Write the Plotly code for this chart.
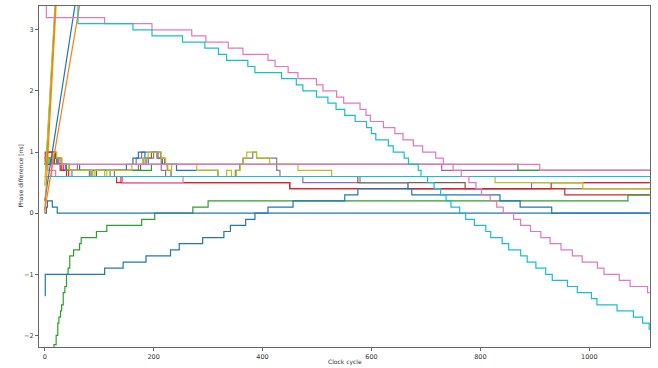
import plotly.graph_objects as go

END = 1111  # last simulated clock cycle

# ---- step series: x = clock cycle where the value changes, y = new value [ns]
blue_zero_x = [0, 3, 5, 14, 23, END]
blue_zero_y = [0.0, 0.1, 0.2, 0.1, 0.0, 0.0]

blue_rise_x = [0, 1, 110, 144, 186, 231, 247, 290, 329, 341, 369, 386, 410, 456, 551, 575, 674, 836, 873, 931, END]
blue_rise_y = [-1.35, -1.0, -0.9, -0.8, -0.7, -0.6, -0.5, -0.4, -0.3, -0.2, -0.1, 0.0, 0.1, 0.2, 0.3, 0.4, 0.3, 0.2, 0.1, 0.0, 0.0]

blue_c_x = [0, 10, 22, 64, 150, 162, 172, 184, 190, 242, 318, END]
blue_c_y = [0.8, 0.9, 0.8, 0.7, 0.8, 0.9, 1.0, 0.9, 0.8, 0.7, 0.6, 0.6]

green_rise_x = [0, 17, 21, 24, 26, 29, 31, 34, 37, 40, 43, 46, 53, 64, 67, 95, 114, 178, 202, 272, 300, 1071, END]
green_rise_y = [-3.0, -2.15, -2.0, -1.8, -1.7, -1.6, -1.5, -1.3, -1.2, -1.0, -0.9, -0.7, -0.6, -0.5, -0.4, -0.3, -0.2, -0.1, 0.0, 0.1, 0.2, 0.3, 0.3]

green_b_x = [0, 6, 15, 40, 156, 196, 869, END]
green_b_y = [0.8, 0.9, 0.8, 0.7, 0.7, 0.8, 0.7, 0.7]

red_a_x = [0, 1, 18, 26, 34, 44, 132, 450, 955, END]
red_a_y = [0.8, 1.0, 0.9, 0.8, 0.7, 0.6, 0.5, 0.4, 0.3, 0.3]

red_b_x = [0, 5, 18, 24, 30, 40, 140, 450, 930, END]
red_b_y = [0.9, 1.0, 0.8, 0.8, 0.7, 0.6, 0.5, 0.4, 0.5, 0.5]

purple_a_x = [0, 12, 24, 38, 60, 168, 178, 213, 220, 729, END]
purple_a_y = [0.8, 0.9, 0.8, 0.7, 0.8, 0.9, 1.0, 0.9, 0.8, 0.7, 0.7]

purple_b_x = [0, 10, 30, 50, 474, 667, 894, END]
purple_b_y = [0.9, 0.8, 0.7, 0.6, 0.5, 0.4, 0.5, 0.5]

brown_x = [0, 14, 20, 30, 45, 85, 95, 176, 186, 196, 208, 216, 225, 232, 575, 772, END]
brown_y = [0.9, 1.0, 0.9, 0.8, 0.7, 0.6, 0.7, 0.8, 0.9, 1.0, 0.9, 0.8, 0.7, 0.6, 0.5, 0.4, 0.4]

gray_x = [0, 16, 28, 82, 88, 120, 128, 172, 182, 200, 206, 214, 222, 350, 358, 364, 382, 389, 426, 432, 579, 667, END]
gray_y = [0.9, 0.8, 0.7, 0.6, 0.7, 0.6, 0.7, 0.8, 0.9, 1.0, 0.9, 0.7, 0.6, 0.7, 0.8, 0.9, 1.0, 0.9, 0.7, 0.6, 0.5, 0.4, 0.4]

olive_x = [0, 15, 22, 32, 45, 88, 92, 110, 114, 160, 180, 190, 214, 222, 226, 233, 279, 318, 334, 343, 352, 359, 365, 371, 389, 413, 465, 527, 827, 988, END]
olive_y = [0.9, 1.0, 0.9, 0.8, 0.7, 0.6, 0.7, 0.6, 0.7, 0.8, 0.9, 1.0, 0.9, 0.8, 0.7, 0.8, 0.7, 0.6, 0.7, 0.6, 0.7, 0.8, 0.9, 1.0, 0.9, 0.8, 0.7, 0.6, 0.5, 0.4, 0.4]

pink_b_x = [0, 6, 20, 143, 254, END]
pink_b_y = [0.8, 0.7, 0.6, 0.5, 0.6, 0.6]

pink_flat_x = [0, 13, 909, END]
pink_flat_y = [0.6, 0.8, 0.7, 0.7]

cyan_flat_x = [0, END]
cyan_flat_y = [0.6, 0.6]

pink_desc_x = [0, 3, 110, 197, 270, 296, 337, 364, 410, 423, 447, 465, 499, 511, 536, 549, 579, 590, 598, 622,
               643, 658, 677, 694, 718, 732, 750, 765, 779, 792, 802, 818, 830, 842, 861, 874, 892, 911, 928, 948,
               969, 987, 1015, 1027, 1055, 1075, 1107, END]
pink_desc_y = [3.6, 3.2, 3.1, 3.0, 2.9, 2.8, 2.7, 2.6, 2.5, 2.4, 2.3, 2.2, 2.1, 2.0, 1.9, 1.8, 1.7, 1.6, 1.5, 1.4,
               1.3, 1.2, 1.1, 1.0, 0.9, 0.8, 0.7, 0.6, 0.5, 0.4, 0.3, 0.2, 0.1, 0.0, -0.1, -0.2, -0.3, -0.4, -0.5, -0.6,
               -0.7, -0.8, -0.9, -1.0, -1.1, -1.2, -1.3, -1.3]

cyan_desc_x = [0, 61, 162, 197, 253, 294, 319, 334, 373, 386, 435, 462, 474, 499, 520, 535, 551, 570, 591, 600,
               608, 631, 640, 660, 668, 686, 691, 703, 715, 727, 737, 746, 762, 773, 789, 810, 819, 840, 852, 874,
               886, 902, 920, 932, 960, 978, 1004, 1014, 1051, 1081, 1098, 1110, END]
cyan_desc_y = [3.6, 3.1, 3.0, 2.9, 2.8, 2.7, 2.6, 2.5, 2.4, 2.3, 2.2, 2.1, 2.0, 1.9, 1.8, 1.7, 1.6, 1.5, 1.4, 1.3,
               1.2, 1.1, 1.0, 0.9, 0.8, 0.7, 0.6, 0.5, 0.4, 0.3, 0.2, 0.1, 0.0, -0.1, -0.2, -0.3, -0.4, -0.5, -0.6, -0.7,
               -0.8, -0.9, -1.0, -1.1, -1.2, -1.3, -1.4, -1.5, -1.6, -1.7, -1.8, -1.9, -1.9]

# ---- runaway series (phase keeps growing), drawn as straight ramps
orange_fast_x = [0, 22]
orange_fast_y = [0.0, 3.6]
olive_fast_x = [0, 20]
olive_fast_y = [0.45, 3.6]
green_fast_x = [2, 21]
green_fast_y = [0.7, 3.6]
blue_slow_x = [0, 59]
blue_slow_y = [0.2, 3.6]
orange_slow_x = [0, 68]
orange_slow_y = [0.05, 3.6]

# tick labels
x_ticks = [0, 200, 400, 600, 800, 1000]
y_ticks = [-2, -1, 0, 1, 2, 3]

BLUE, ORANGE, GREEN, RED, PURPLE = "#1f77b4", "#ff7f0e", "#2ca02c", "#d62728", "#9467bd"
BROWN, PINK, GRAY, OLIVE, CYAN = "#8c564b", "#e377c2", "#7f7f7f", "#bcbd22", "#17becf"

# drawing order: bottom to top
series = [
    (purple_b_x, purple_b_y, PURPLE, "hv"),
    (brown_x, brown_y, BROWN, "hv"),
    (gray_x, gray_y, GRAY, "hv"),
    (red_a_x, red_a_y, RED, "hv"),
    (red_b_x, red_b_y, RED, "hv"),
    (purple_a_x, purple_a_y, PURPLE, "hv"),
    (green_b_x, green_b_y, GREEN, "hv"),
    (pink_b_x, pink_b_y, PINK, "hv"),
    (blue_c_x, blue_c_y, BLUE, "hv"),
    (olive_x, olive_y, OLIVE, "hv"),
    (pink_flat_x, pink_flat_y, PINK, "hv"),
    (cyan_flat_x, cyan_flat_y, CYAN, "hv"),
    (green_rise_x, green_rise_y, GREEN, "hv"),
    (blue_rise_x, blue_rise_y, BLUE, "hv"),
    (blue_zero_x, blue_zero_y, BLUE, "hv"),
    (orange_slow_x, orange_slow_y, ORANGE, "linear"),
    (blue_slow_x, blue_slow_y, BLUE, "linear"),
    (green_fast_x, green_fast_y, GREEN, "linear"),
    (olive_fast_x, olive_fast_y, OLIVE, "linear"),
    (orange_fast_x, orange_fast_y, ORANGE, "linear"),
    (pink_desc_x, pink_desc_y, PINK, "hv"),
    (cyan_desc_x, cyan_desc_y, CYAN, "hv"),
]

fig = go.Figure()
for xs, ys, color, shape in series:
    fig.add_trace(go.Scatter(
        x=xs, y=ys, mode="lines",
        line=dict(color=color, width=1.2, shape=shape),
        showlegend=False, hoverinfo="skip",
    ))

axis_style = dict(
    showline=True, linecolor="#666", linewidth=1, mirror=True,
    ticks="outside", ticklen=3, tickwidth=1, tickcolor="#666",
    showgrid=False, zeroline=False,
    tickfont=dict(family="DejaVu Sans", size=6.5, color="#333"),
)

fig.update_layout(
    width=658, height=368,
    margin=dict(l=39, r=8, t=6, b=21),
    paper_bgcolor="white", plot_bgcolor="white",
    xaxis=dict(range=[-10.5, 1111.5], tickvals=x_ticks, **axis_style),
    yaxis=dict(range=[-2.19, 3.39], tickvals=y_ticks, **axis_style),
    annotations=[
        dict(text="Clock cycle", xref="paper", yref="paper", x=0.5, y=-0.044,
             xanchor="center", yanchor="middle", showarrow=False,
             font=dict(family="DejaVu Sans", size=6, color="#333")),
        dict(text="Phase difference [ns]", xref="paper", yref="paper",
             x=-0.031, y=0.5, xanchor="center", yanchor="middle", textangle=-90,
             showarrow=False, font=dict(family="DejaVu Sans", size=6, color="#333")),
    ],
)

fig.write_html("out.html", config={"displayModeBar": False})
